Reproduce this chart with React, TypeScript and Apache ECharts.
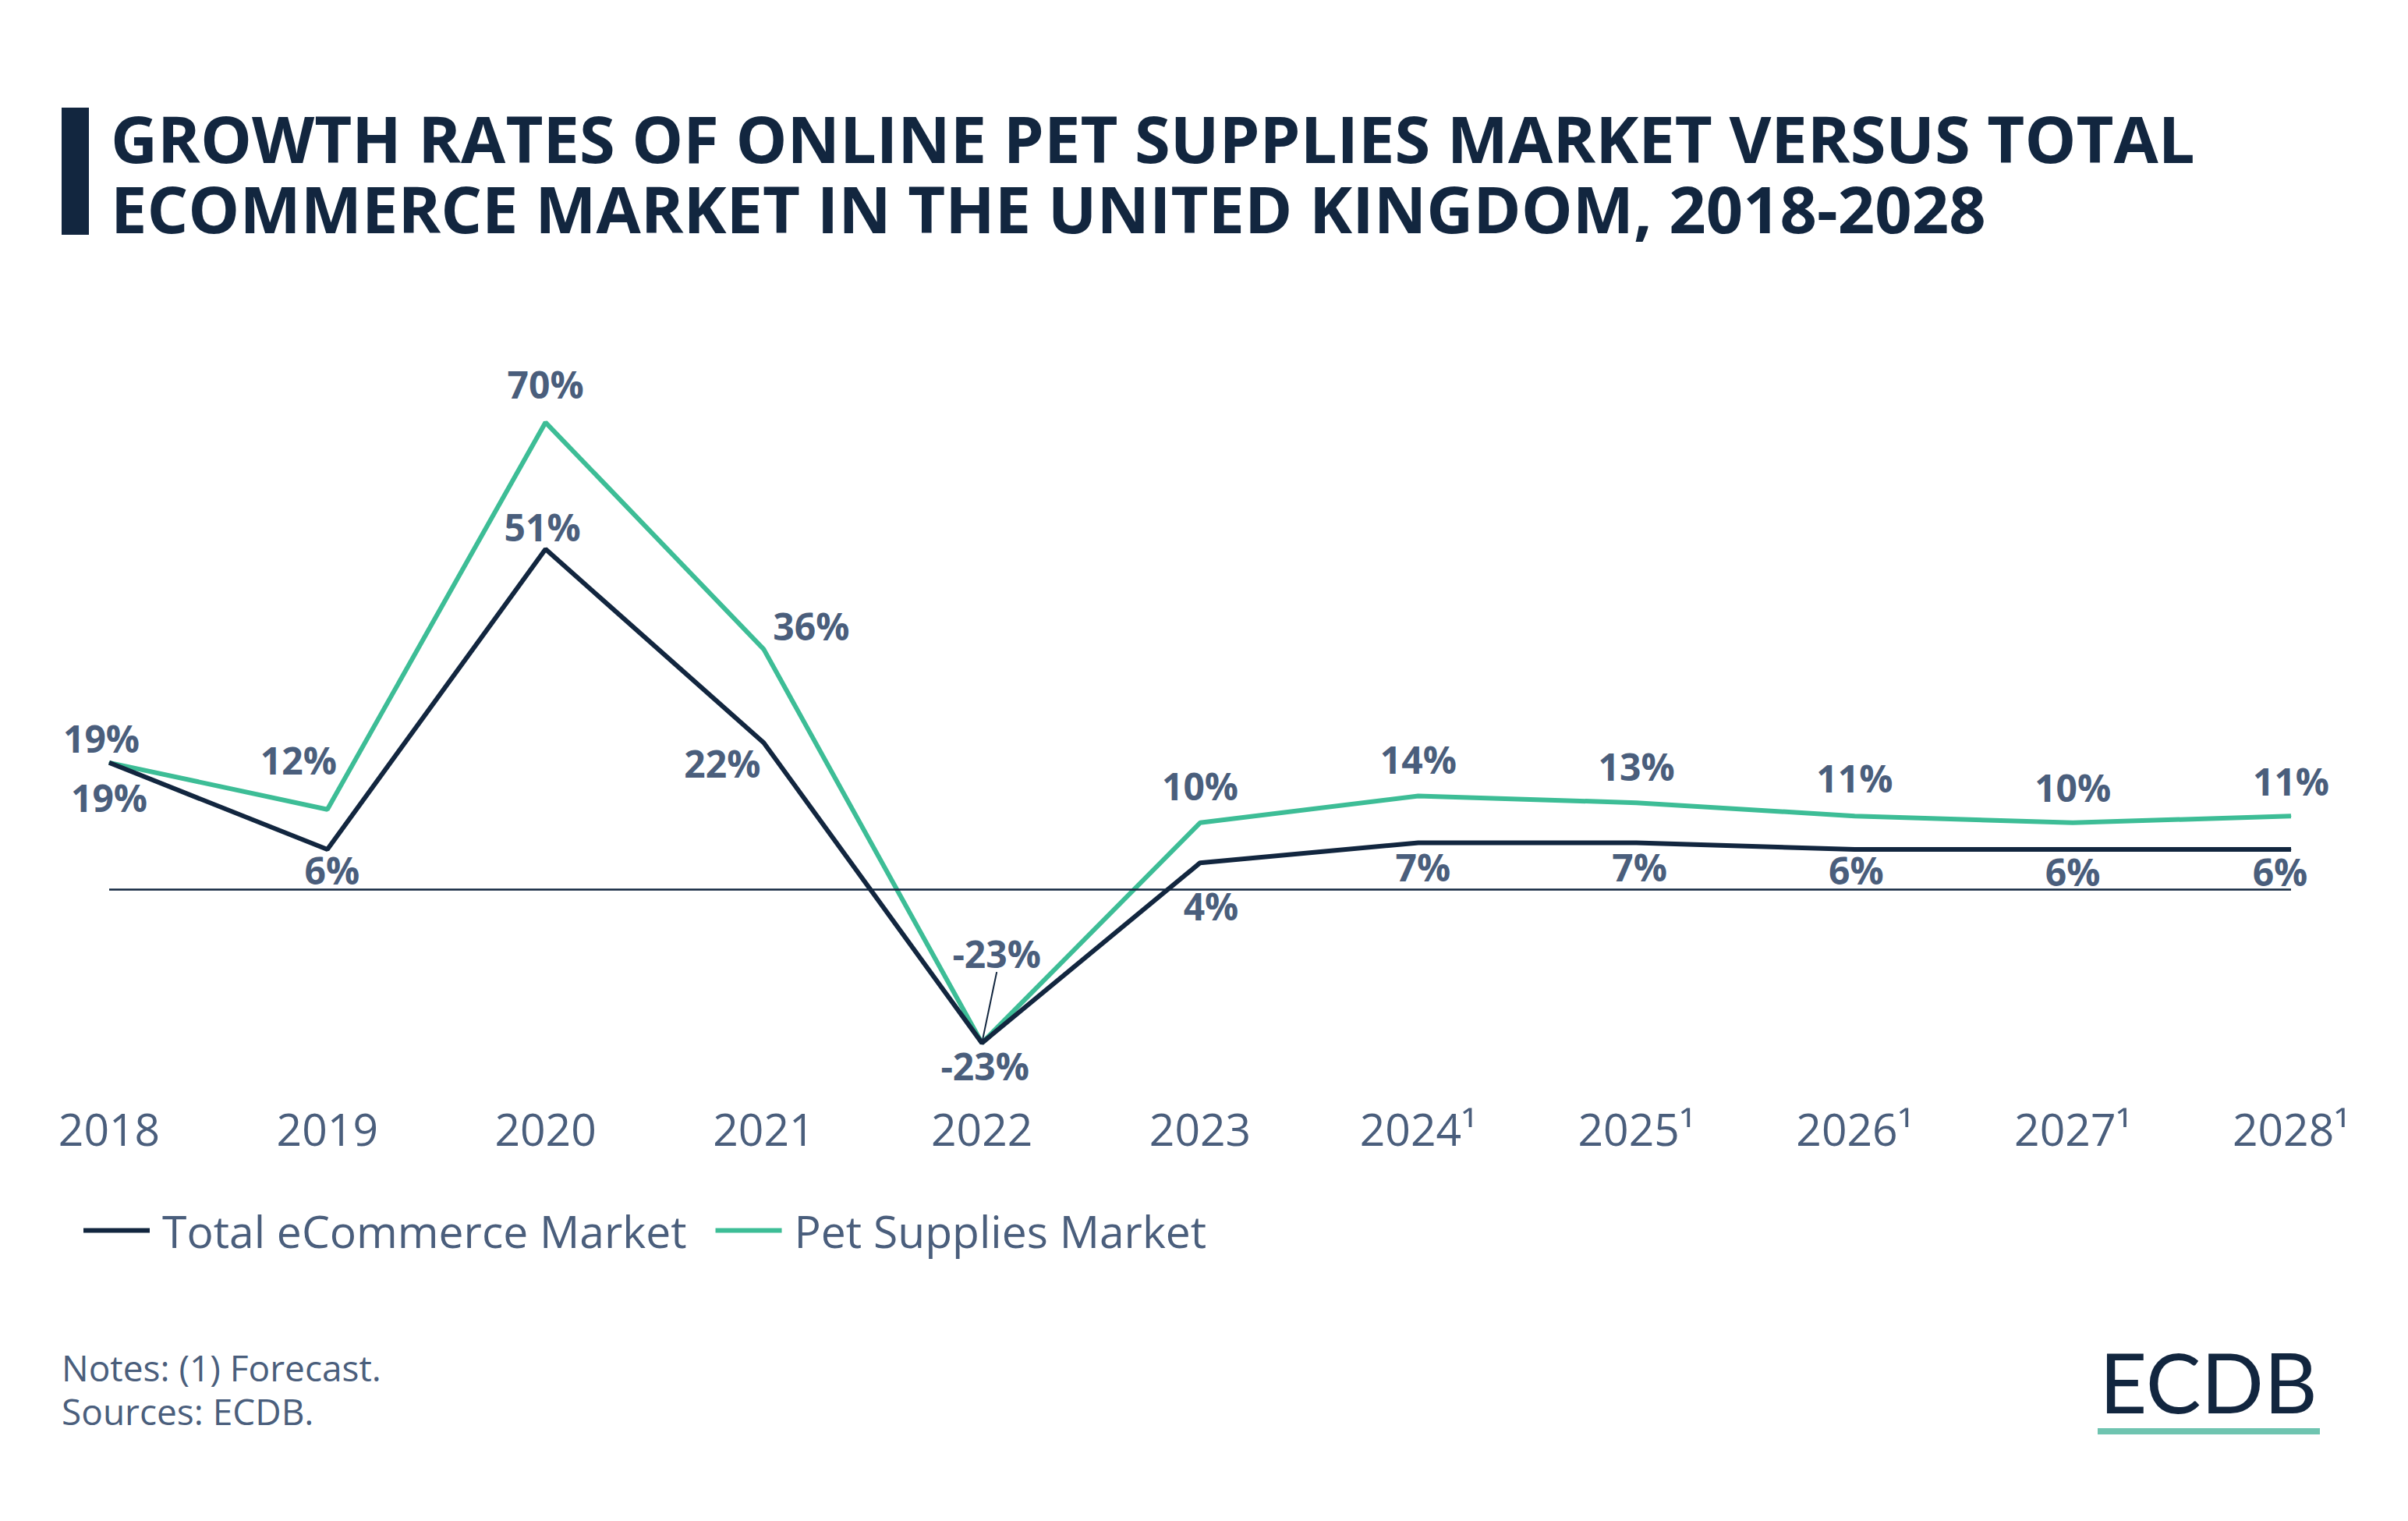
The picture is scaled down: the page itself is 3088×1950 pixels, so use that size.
import React, { useEffect, useRef } from 'react';
import * as echarts from 'echarts';

const years = ['2018', '2019', '2020', '2021', '2022', '2023', '2024¹', '2025¹', '2026¹', '2027¹', '2028¹'];
const totalEcommerce = [19, 6, 51, 22, -23, 4, 7, 7, 6, 6, 6];
const petSupplies = [19, 12, 70, 36, -23, 10, 14, 13, 11, 10, 11];
const seriesNames = ['Total eCommerce Market', 'Pet Supplies Market'];
const titleLines = [
  'GROWTH RATES OF ONLINE PET SUPPLIES MARKET VERSUS TOTAL',
  'ECOMMERCE MARKET IN THE UNITED KINGDOM, 2018-2028',
];
const noteLines = ['Notes: (1) Forecast.', 'Sources: ECDB.'];

// label placement (pixel offsets from each point), style only
const petLabelOffsets = [[-10, -31], [-37, -63], [0, -49], [61, -30], [19, -115], [0, -47], [0, -47], [0, -47], [0, -49], [0, -45], [0, -45]];
const totalLabelOffsets = [[0, 45], [6, 26], [-4, -29], [-53, 26], [4, 29], [14, 55], [6, 31], [4, 31], [2, 26], [0, 28], [-14, 28]];

const NAVY = '#12263f';
const GREEN = '#3dbd96';
const SLATE = '#4a5e7c';

export default function App() {
  const ref = useRef<HTMLDivElement>(null);
  useEffect(() => {
    document.body.style.margin = '0';
    const chart = echarts.init(ref.current as HTMLDivElement, null, { renderer: 'svg' });
    const labelBase = {
      show: true,
      position: 'inside',
      fontFamily: 'Open Sans',
      fontWeight: 'bold',
      fontSize: 48,
      color: SLATE,
      formatter: (p: any) => p.value + '%',
    };
    const option = {
      animation: false,
      backgroundColor: '#ffffff',
      grid: { left: 140, right: 150, top: 456, bottom: 553 },
      xAxis: {
        type: 'category',
        data: years,
        boundaryGap: false,
        axisLine: { show: false },
        axisTick: { show: false },
        splitLine: { show: false },
        axisLabel: { fontFamily: 'Open Sans', fontSize: 57, color: SLATE, margin: 21 },
      },
      yAxis: { type: 'value', min: -30, max: 80, show: false, splitLine: { show: false } },
      legend: {
        left: 102,
        top: 1544,
        icon: 'rect',
        itemWidth: 85,
        itemHeight: 6,
        itemGap: 37,
        data: seriesNames,
        textStyle: { fontFamily: 'Open Sans', fontSize: 57, color: SLATE, padding: [0, 0, 0, 11] },
      },
      series: [
        {
          name: seriesNames[0],
          type: 'line',
          z: 3,
          data: totalEcommerce.map((v, i) => ({ value: v, label: { offset: totalLabelOffsets[i] } })),
          symbol: 'circle',
          symbolSize: 1,
          itemStyle: { color: NAVY },
          lineStyle: { color: NAVY, width: 6 },
          label: labelBase,
          markLine: {
            silent: true,
            symbol: 'none',
            label: { show: false },
            lineStyle: { color: NAVY, width: 2.5, type: 'solid' },
            data: [{ yAxis: 0 }],
          },
        },
        {
          name: seriesNames[1],
          type: 'line',
          z: 2,
          data: petSupplies.map((v, i) => ({
            value: v,
            labelLine: i === 4 ? { show: true, lineStyle: { color: NAVY, width: 2 } } : { show: false },
          })),
          symbol: 'circle',
          symbolSize: 1,
          itemStyle: { color: GREEN },
          lineStyle: { color: GREEN, width: 6 },
          label: labelBase,
          labelLayout: (params: any) => ({
            dx: petLabelOffsets[params.dataIndex][0],
            dy: petLabelOffsets[params.dataIndex][1],
          }),
        },
      ],
      graphic: [
        { type: 'rect', shape: { x: 79, y: 138, width: 35, height: 163 }, style: { fill: NAVY } },
        {
          type: 'text',
          x: 142,
          y: 131,
          style: {
            text: titleLines.join('\n'),
            fill: NAVY,
            font: "bold 83px 'Open Sans'",
            lineHeight: 90,
            verticalAlign: 'top',
          },
        },
        {
          type: 'text',
          x: 79,
          y: 1725,
          style: {
            text: noteLines.join('\n'),
            fill: SLATE,
            font: "46px 'Open Sans'",
            lineHeight: 56,
            verticalAlign: 'top',
          },
        },
        {
          type: 'text',
          x: 2832,
          y: 1771,
          style: { text: 'ECDB', fill: NAVY, font: "106px Lato", align: 'center', verticalAlign: 'middle' },
        },
        { type: 'rect', shape: { x: 2690, y: 1831, width: 285, height: 8 }, style: { fill: '#6fc4b0' } },
      ],
    };
    chart.setOption(option as any);
    return () => chart.dispose();
  }, []);
  return <div ref={ref} style={{ width: 3088, height: 1950 }} />;
}
